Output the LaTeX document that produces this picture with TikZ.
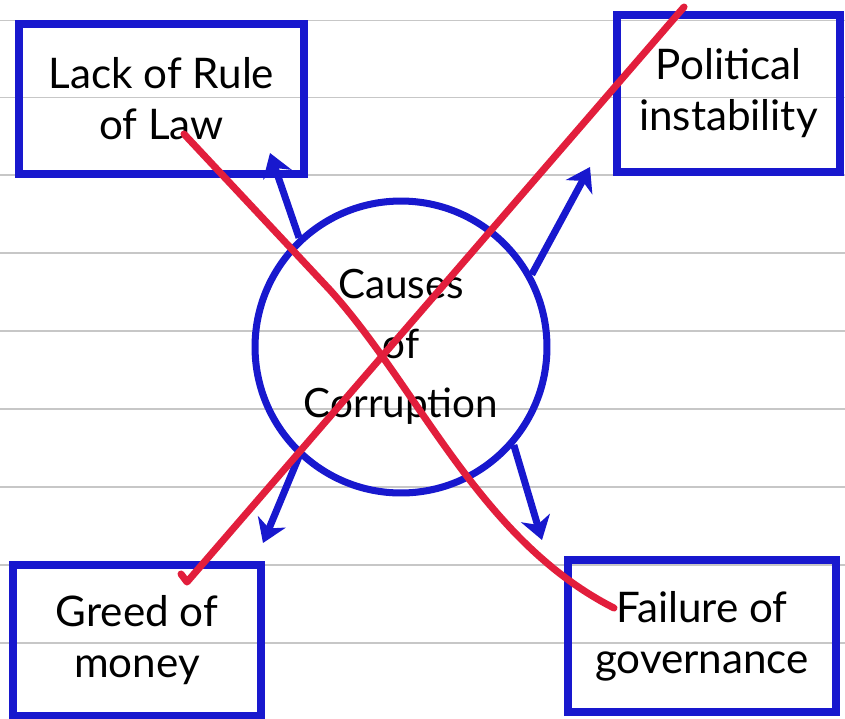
\documentclass[tikz,border=0pt]{standalone}
\usepackage{fontspec}
\setmainfont{Lato}
\usetikzlibrary{arrows.meta,positioning}
\definecolor{inkblue}{RGB}{24,24,206}
\definecolor{inkred}{RGB}{226,30,60}
\tikzstyle{cause} = [draw=inkblue,line width=4.5pt,rectangle,align=center,inner sep=0,font=\fontsize{24}{29}\selectfont]
\tikzstyle{hub} = [draw=inkblue,line width=4pt,circle,align=center,inner sep=0,minimum size=5.84cm,font=\fontsize{23}{34}\selectfont]
\tikzstyle{link} = [draw=inkblue,line width=4pt,-{Stealth[length=13pt,width=17pt,inset=4pt]}]
\tikzstyle{cross} = [draw=inkred,line width=4pt,line cap=round,line join=round]
\tikzstyle{ruling} = [draw=black!22,line width=0.9pt]

\begin{document}
\begin{tikzpicture}[x=0.02cm,y=-0.02cm]
      \useasboundingbox[fill=white] (0,0) rectangle (845,718);
      % ruled paper
      \foreach \y in {20.6,97.5,175,253,331,409,487,565,643}
        \draw[ruling] (0,\y) -- (845,\y);
      % causes
      \node[cause,minimum width=5.7cm,minimum height=3cm] (law) at (161.5,99) {Lack of Rule\\of Law};
      \node[cause,minimum width=4.46cm,minimum height=3.14cm] (politics) at (728.5,93.5) {Political\\instability};
      \node[cause,minimum width=4.96cm,minimum height=3.02cm] (greed) at (137,640.5) {Greed of\\money};
      \node[cause,minimum width=5.36cm,minimum height=3.04cm] (governance) at (702,636) {Failure of\\governance};
      \node[hub] (causes) at (401,347) {Causes\\of\\Corruption};
      % arrow tips
      \coordinate (lawtip) at (270,153);
      \coordinate (poltip) at (590,167);
      \coordinate (greedtip) at (263,543);
      \coordinate (govtip) at (542,540);
      \draw[link] (causes.133) -- (lawtip);
      \draw[link] (causes.29) -- (poltip);
      \draw[link] (causes.227) -- (greedtip);
      \draw[link] (causes.-41) -- (govtip);
      % crossed out
      \draw[cross] (184,134) -- (330,290) .. controls (420,390) and (480,540) .. (614,608);
      \draw[cross] (684,7) -- (187,582) -- (181,574);
    \end{tikzpicture}
\end{document}
